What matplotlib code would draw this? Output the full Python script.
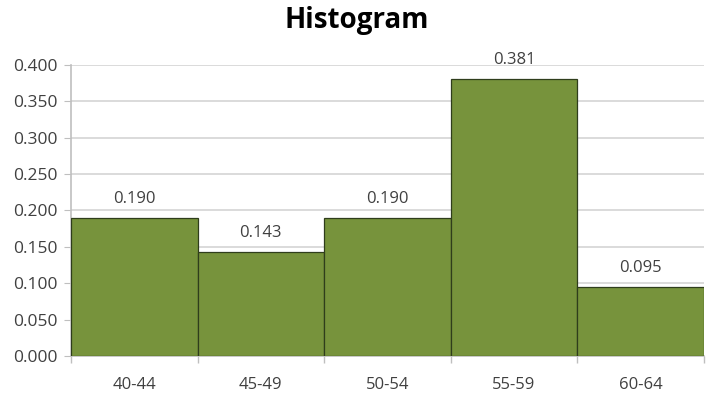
import numpy as np
import matplotlib.pyplot as plt
from matplotlib.ticker import FixedLocator

plt.rcParams['font.family'] = ['Open Sans', 'DejaVu Sans']

bins = ['40-44', '45-49', '50-54', '55-59', '60-64']
freq = [0.190, 0.143, 0.190, 0.381, 0.095]

fig = plt.figure(figsize=(7.13, 4.05), dpi=100)
ax = fig.add_axes([0.0996, 0.121, 0.8874, 0.7185])

x = np.arange(len(bins))
bars = ax.bar(x, freq, width=1.0, color='#77933C', edgecolor='#2f3d1c', linewidth=0.9, zorder=3)

for xi, v in zip(x, freq):
    ax.annotate('%.3f' % v, (xi, v), xytext=(0, 8), textcoords='offset points',
                ha='center', va='bottom', fontsize=12, color='#404040', zorder=4)

ax.set_xlim(-0.5, len(bins) - 0.5)
ax.set_ylim(0, 0.4)
ax.set_yticks(np.arange(0, 0.401, 0.05))
ax.yaxis.set_major_formatter(plt.FuncFormatter(lambda v, p: '%.3f' % v))
ax.set_xticks(x)
ax.set_xticklabels(bins)
ax.xaxis.set_minor_locator(FixedLocator(np.arange(-0.5, len(bins), 1.0)))
ax.tick_params(axis='x', which='major', length=0, pad=15, labelsize=12, labelcolor='#404040')
ax.tick_params(axis='x', which='minor', length=5, color='#bfbfbf', width=1)
ax.tick_params(axis='y', length=5, color='#bfbfbf', labelsize=12.5, labelcolor='#404040', pad=5)

ax.grid(axis='y', color='#d4d4d4', linewidth=1.2, zorder=0)
for s in ['top', 'right']:
    ax.spines[s].set_visible(False)
ax.spines['left'].set_color('#bfbfbf')
ax.spines['bottom'].set_color('#bfbfbf')
ax.spines['left'].set_linewidth(1.2)
ax.spines['bottom'].set_linewidth(1.2)

fig.suptitle('Histogram', x=0.5, y=0.985, fontsize=20, fontweight='bold', color='black')

plt.savefig('out.png', dpi=100)
